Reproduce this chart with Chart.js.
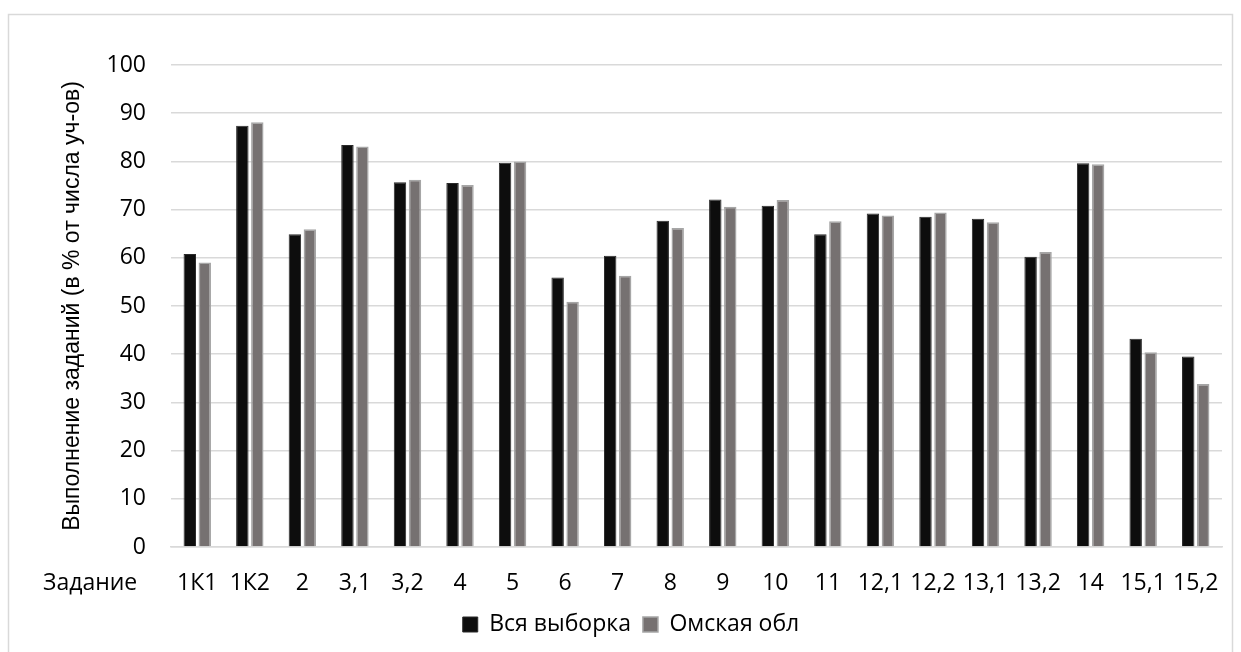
<!DOCTYPE html>
<html>
<head>
<meta charset="utf-8">
<script src="https://cdn.jsdelivr.net/npm/chart.js@4"></script>
<style>
  body { margin: 0; background: #fff; }
  #wrap { width: 1241px; height: 652px; }
</style>
</head>
<body>
<div id="wrap"><canvas id="chart" width="1241" height="652"></canvas></div>
<script>
// task labels
const tasks = ['1К1', '1К2', '2', '3,1', '3,2', '4', '5', '6', '7', '8', '9', '10', '11', '12,1', '12,2', '13,1', '13,2', '14', '15,1', '15,2'];
// whole sample
const allSample = [60.8, 87.4, 64.9, 83.4, 75.7, 75.5, 79.7, 55.9, 60.4, 67.7, 72.1, 70.8, 64.9, 69.2, 68.5, 68.1, 60.2, 79.6, 43.2, 39.5];
// Omsk region
const omsk = [59.0, 88.1, 65.9, 83.1, 76.2, 75.1, 80.0, 50.9, 56.3, 66.2, 70.6, 72.0, 67.6, 68.8, 69.4, 67.4, 61.2, 79.4, 40.4, 33.8];
const yTicks = [0, 10, 20, 30, 40, 50, 60, 70, 80, 90, 100];

const textFont = "'Open Sans', sans-serif";

// frame + the "Задание" caption in front of the category labels
const extras = {
    id: 'extras',
    beforeDraw(chart) {
        const ctx = chart.ctx;
        ctx.save();
        ctx.strokeStyle = '#d9d9d9';
        ctx.lineWidth = 1.5;
        ctx.strokeRect(8.5, 14.5, 1224, 660);
        ctx.restore();
    },
    afterDraw(chart) {
        const ctx = chart.ctx;
        ctx.save();
        ctx.font = '23px ' + textFont;
        ctx.fillStyle = '#000';
        ctx.textBaseline = 'middle';
        ctx.fillText('Задание', 43, chart.chartArea.bottom + 36);
        ctx.restore();
    }
};

new Chart(document.getElementById('chart').getContext('2d'), {
    type: 'bar',
    data: {
        labels: tasks,
        datasets: [{
            label: 'Вся выборка',
            data: allSample,
            backgroundColor: '#0d0d0d',
            borderColor: '#2a2a2a',
            borderWidth: 1
        }, {
            label: 'Омская обл',
            data: omsk,
            backgroundColor: '#767171',
            borderColor: '#a6a6a6',
            borderWidth: 1.5
        }]
    },
    options: {
        responsive: false,
        animation: false,
        categoryPercentage: 0.57,
        barPercentage: 0.83,
        layout: { padding: { left: 40, right: 19, top: 65, bottom: 6 } },
        plugins: {
            tooltip: { enabled: false },
            legend: {
                position: 'bottom',
                labels: {
                    color: '#000',
                    font: { family: textFont, size: 23 },
                    boxWidth: 15,
                    boxHeight: 15,
                    padding: 12
                }
            }
        },
        scales: {
            x: {
                grid: { display: false },
                border: { display: true, color: '#d9d9d9', width: 1.5 },
                ticks: {
                    color: '#000',
                    font: { family: textFont, size: 23 },
                    padding: 15,
                    maxRotation: 0,
                    autoSkip: false
                },
                afterFit(scale) { scale.height = 54; }
            },
            y: {
                min: 0,
                max: 100,
                afterBuildTicks(scale) { scale.ticks = yTicks.map(v => ({ value: v })); },
                grid: { color: '#d9d9d9', lineWidth: 1.5, drawTicks: false },
                border: { display: false },
                ticks: {
                    color: '#000',
                    font: { family: textFont, size: 23 },
                    padding: 25
                },
                title: {
                    display: true,
                    text: 'Выполнение заданий (в % от числа уч-ов)',
                    color: '#000',
                    font: { family: "'Liberation Sans', Arial, sans-serif", size: 23 },
                    padding: { top: 19, bottom: 0 }
                },
                afterFit(scale) { scale.width = 131; }
            }
        }
    },
    plugins: [extras]
});
</script>
</body>
</html>
